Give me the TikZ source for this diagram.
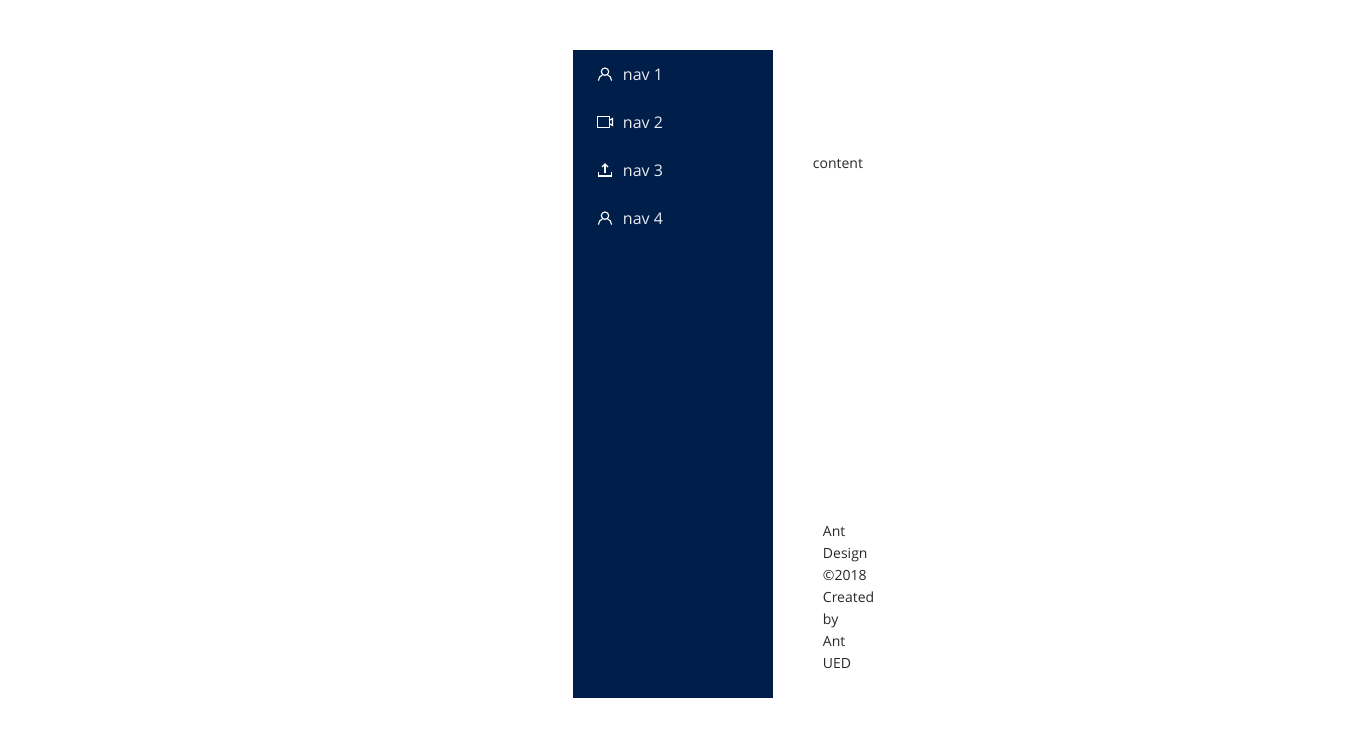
\documentclass[tikz,border=0pt]{standalone}
\usepackage{fontspec}
\setmainfont{Open Sans}
\usetikzlibrary{positioning,calc}
\definecolor{siderBlue}{RGB}{0, 30, 74}
\definecolor{navText}{RGB}{232, 235, 240}
\definecolor{bodyText}{RGB}{40, 40, 40}

\tikzset{
    navlabel/.style={anchor=base west, inner sep=0pt, text=navText, font=\fontsize{12}{14}\selectfont},
    bodylabel/.style={anchor=base west, inner sep=0pt, text=bodyText, font=\fontsize{10.5}{16.5}\selectfont},
    iconline/.style={draw=white, line width=0.85pt}
}

\newcommand{\usericon}[1]{
    \draw[iconline] ($(#1)+(0,-2.3)$) circle (3.7);
    \draw[iconline] ($(#1)+(-6.6,6.6)$) .. controls ($(#1)+(-6.6,3.4)$) and ($(#1)+(-4.6,1.9)$) .. ($(#1)+(-2.6,1)$);
    \draw[iconline] ($(#1)+(6.6,6.6)$) .. controls ($(#1)+(6.6,3.4)$) and ($(#1)+(4.6,1.9)$) .. ($(#1)+(2.6,1)$);
}

\begin{document}
\begin{tikzpicture}[x=0.75pt,y=-0.75pt]
    \useasboundingbox (0,0) rectangle (1346,748);

    \fill[siderBlue] (573,50) rectangle (773,698);

    % menu entries
    \foreach \row/\ypos in {1/74,2/122,3/170,4/218}{
        \node[navlabel] (nav\row) at (622.7,\ypos+7) {nav \row};
        \coordinate (icon\row) at (605,\ypos);
    }

    \usericon{icon1}
    \usericon{icon4}

    % camera
    \draw[iconline] ($(icon2)+(-7.3,-5.5)$) rectangle ($(icon2)+(4.2,5.5)$);
    \draw[iconline] ($(icon2)+(4.2,-1.5)$) -- ($(icon2)+(7.5,-3.5)$) -- ($(icon2)+(7.5,3.5)$) -- ($(icon2)+(4.2,1.5)$);

    % upload
    \draw[iconline] ($(icon3)+(-6.5,1.7)$) -- ($(icon3)+(-6.5,6)$) -- ($(icon3)+(6.5,6)$) -- ($(icon3)+(6.5,1.7)$);
    \draw[iconline] ($(icon3)+(0,3.5)$) -- ($(icon3)+(0,-5.5)$);
    \draw[iconline] ($(icon3)+(-3,-3)$) -- ($(icon3)+(0,-6)$) -- ($(icon3)+(3,-3)$);

    \node[bodylabel] (content) at (812.7,168.8) {content};

    \node[bodylabel, anchor=north west, align=left] (footer) at (822.7,525.8)
        {Ant\\Design\\©2018\\Created\\by\\Ant\\UED};
\end{tikzpicture}
\end{document}
